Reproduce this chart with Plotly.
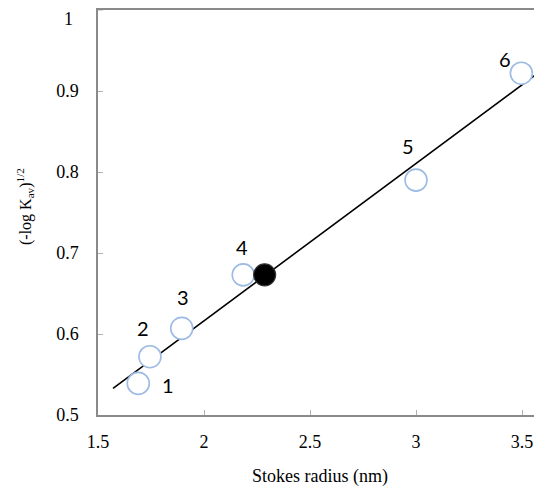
import plotly.graph_objects as go

# Data
open_x = [1.69, 1.745, 1.895, 2.185, 3.0, 3.497]
open_y = [0.539, 0.572, 0.607, 0.673, 0.790, 0.922]
point_labels = ["1", "2", "3", "4", "5", "6"]
label_x = [1.83, 1.713, 1.90, 2.178, 2.962, 3.418]
label_y = [0.537, 0.607, 0.646, 0.707, 0.832, 0.940]
solid_x = [2.286]
solid_y = [0.673]
fit_x = [1.571, 3.6]
fit_y = [0.533, 0.927]
x_ticks = [1.5, 2, 2.5, 3, 3.5]
y_ticks = [0.5, 0.6, 0.7, 0.8, 0.9, 1.0]
y_ticktext = ["0.5", "0.6", "0.7", "0.8", "0.9", "1"]

SERIF = "Liberation Serif"

# page body has an 8px margin; figure coords = reference coords - 8
W, H = 534, 478
L, T, B = 90, 2, 71
PW, PH = W - L, H - T - B

fig = go.Figure()
fig.add_trace(go.Scatter(x=fit_x, y=fit_y, mode="lines",
                         line=dict(color="black", width=1.6), showlegend=False))
fig.add_trace(go.Scatter(x=open_x, y=open_y, mode="markers",
                         marker=dict(size=22, color="white",
                                     line=dict(color="#9dbbe3", width=1.6)),
                         showlegend=False))
fig.add_trace(go.Scatter(x=solid_x, y=solid_y, mode="markers",
                         marker=dict(size=22, color="black",
                                     line=dict(color="#333333", width=1.2)),
                         showlegend=False))
for lx, ly, lt in zip(label_x, label_y, point_labels):
    fig.add_annotation(x=lx, y=ly, text=lt, showarrow=False,
                       font=dict(family="Lato", size=20, color="black"))

axis_common = dict(showline=True, linecolor="#8a8a8a", linewidth=1.5,
                   ticks="inside", ticklen=5, tickcolor="#b0b0b0", tickwidth=1,
                   showgrid=False, zeroline=False,
                   tickfont=dict(family=SERIF, size=18, color="black"))

fig.update_xaxes(range=[1.5, 1.5 + PW / 212.0], tickvals=x_ticks, mirror=True,
                 ticklabelstandoff=10, **axis_common)
# the top tick label would be hidden at the figure edge; draw it as an annotation
fig.update_yaxes(range=[0.5, 1.0], tickvals=y_ticks[:-1], ticktext=y_ticktext[:-1],
                 ticklabelstandoff=14, **axis_common)
fig.add_shape(type="line", xref="paper", yref="y", x0=0, x1=5 / PW,
              y0=y_ticks[-1], y1=y_ticks[-1], line=dict(color="#b0b0b0", width=1))
fig.add_annotation(text=y_ticktext[-1], xref="paper", yref="paper",
                   x=-(98 - 68) / PW, y=1, yshift=T, showarrow=False,
                   xanchor="center", yanchor="top", borderpad=0,
                   font=dict(family=SERIF, size=18, color="black"))

fig.add_annotation(text="Stokes radius (nm)", xref="paper", yref="paper",
                   x=(320 - 8 - L) / PW, y=-(476 - 415) / PH, showarrow=False,
                   xanchor="center", yanchor="middle",
                   font=dict(family=SERIF, size=18, color="black"))
fig.add_annotation(text="(-log K<sub>av</sub>)<sup>1/2</sup>", xref="paper", yref="paper",
                   x=-(98 - 25) / PW, y=(415 - 207) / PH, showarrow=False, textangle=-90,
                   xanchor="center", yanchor="middle",
                   font=dict(family=SERIF, size=16, color="black"))

fig.update_layout(width=W, height=H, margin=dict(l=L, r=0, t=T, b=B),
                  plot_bgcolor="white", paper_bgcolor="white")

fig.write_html("out.html")
